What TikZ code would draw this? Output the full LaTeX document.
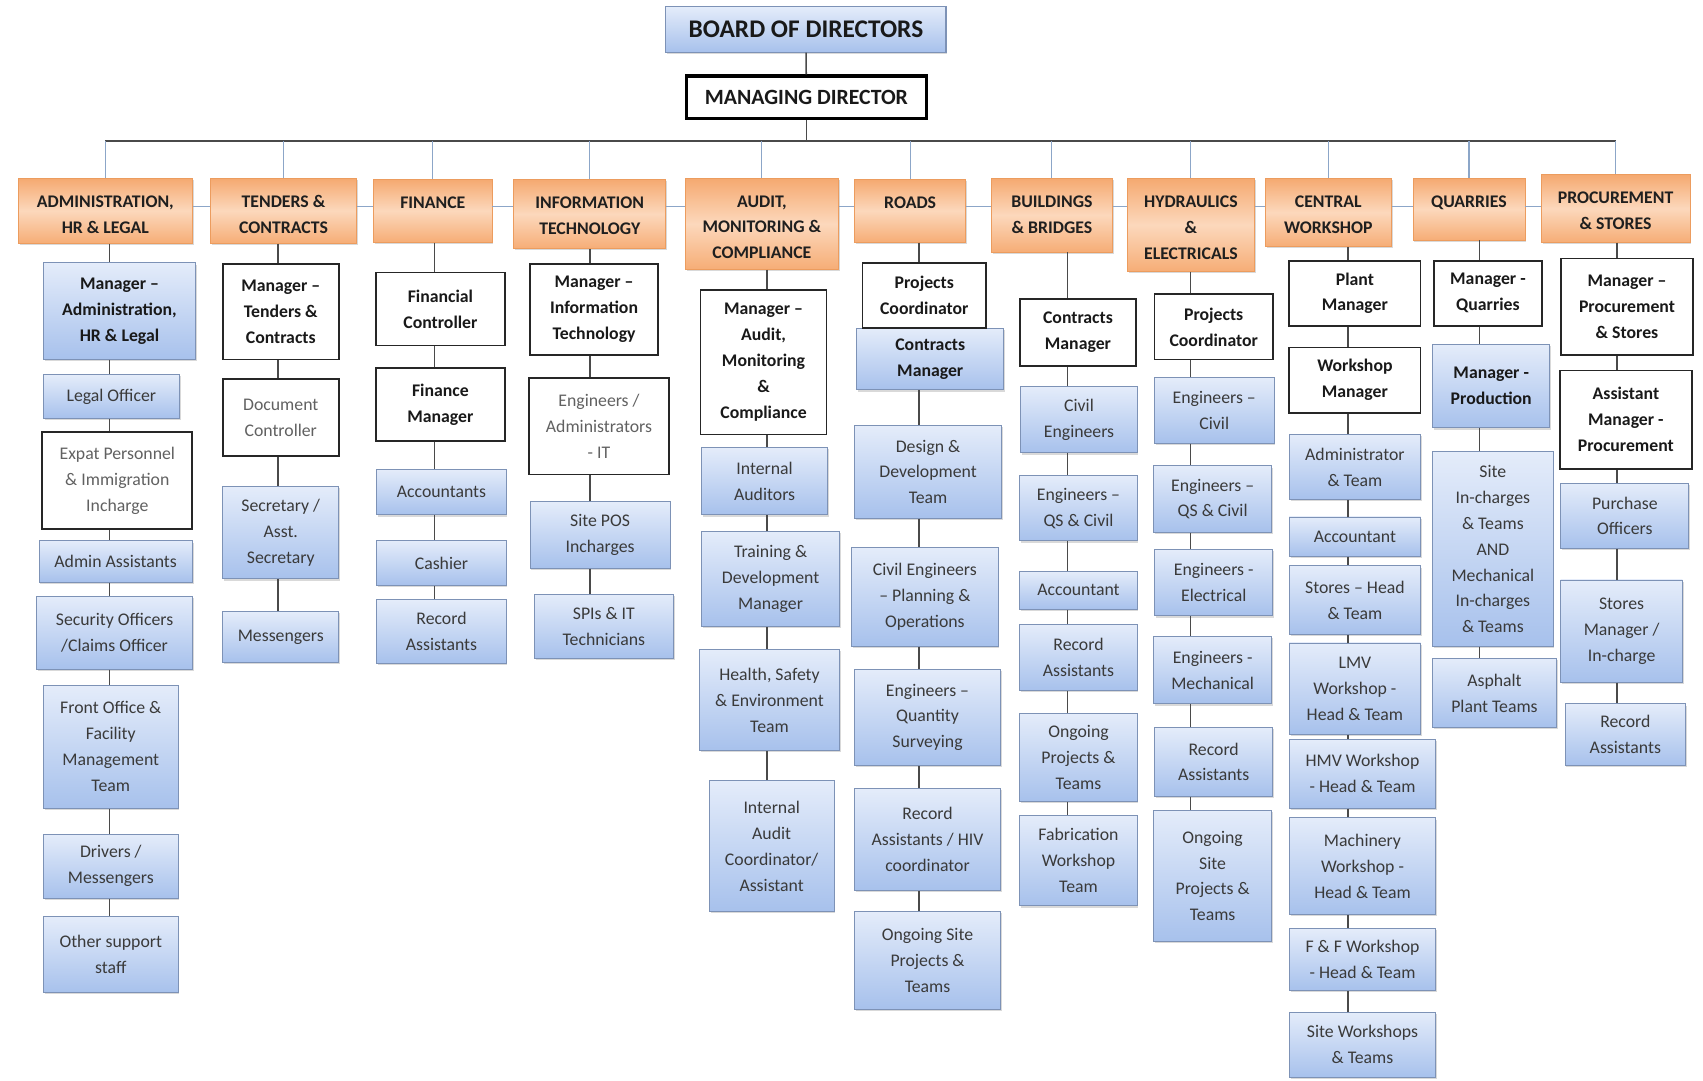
\documentclass[tikz,border=0pt]{standalone}
\usepackage{fontspec}
\setmainfont{Carlito}
\usetikzlibrary{shadows}

\definecolor{hdtop}{HTML}{F5A970}
\definecolor{hdmid}{HTML}{FCD8BC}
\definecolor{hdbot}{HTML}{F6AD76}
\definecolor{hdline}{HTML}{EC9C5E}
\definecolor{bltop}{HTML}{E4ECFA}
\definecolor{blbot}{HTML}{A7C1EC}
\definecolor{blline}{HTML}{7D92B6}
\definecolor{wire}{HTML}{4A4A4A}
\definecolor{thinwire}{HTML}{8CA6C8}
\definecolor{ink}{HTML}{3A3A3A}

% box from its corners (x1,y1)-(x2,y2)
\newcommand{\orgbox}[7]{%
  \node[#1, minimum width={(#5-#3)*0.2mm}, minimum height={(#6-#4)*0.2mm}]
    (#2) at ({(#3+#5)/2},{(#4+#6)/2}) {#7};}
% department head box, text at its top
\newcommand{\headbox}[6]{%
  \node[head, minimum width={(#4-#2)*0.2mm}, minimum height={(#5-#3)*0.2mm}]
    (#1) at ({(#2+#4)/2},{(#3+#5)/2}) {};
  \node[head text] (#1-t) at ([yshift=-3.2mm]#1.north) {#6};}

\begin{document}
\begin{tikzpicture}[x=0.2mm, y=-0.2mm,
    box/.style={rectangle, align=center, inner xsep=1pt, inner ysep=1pt,
      text=ink, font=\fontsize{9.3}{13.6}\selectfont},
    blue box/.style={box, draw=blline, line width=0.5pt, top color=bltop,
      bottom color=blbot,
      drop shadow={shadow xshift=0.7pt, shadow yshift=-0.9pt, opacity=0.3}},
    white box/.style={box, draw=black!85, line width=0.9pt, fill=white,
      text=black!62},
    boss/.style={white box, text=black!90,
      font=\fontsize{9.3}{13.6}\selectfont\bfseries},
    blue boss/.style={blue box, text=black!90,
      font=\fontsize{9.3}{13.6}\selectfont\bfseries},
    head/.style={rectangle, draw=hdline, line width=0.4pt, top color=hdtop,
      bottom color=hdbot, middle color=hdmid,
      drop shadow={shadow xshift=0.7pt, shadow yshift=-0.9pt, opacity=0.3}},
    head text/.style={anchor=north, inner sep=0pt, align=center,
      text=black!88, font=\fontsize{9.3}{13.6}\selectfont\bfseries},
    board box/.style={box, draw=blline, line width=0.6pt, top color=bltop,
      bottom color=blbot, text=black!90,
      font=\fontsize{13.3}{15}\selectfont\bfseries,
      drop shadow={shadow xshift=0.7pt, shadow yshift=-0.9pt, opacity=0.3}},
    md box/.style={box, draw=black, line width=1.7pt, fill=white,
      text=black!90, font=\fontsize{11.4}{13}\selectfont\bfseries},
    conn/.style={draw=wire, line width=0.8pt},
    bus line/.style={draw=wire, line width=1.1pt},
    thin link/.style={draw=thinwire, line width=0.6pt}]
  \useasboundingbox (0,0) rectangle (1568,995);

  \orgbox{board box}{board}{613}{6}{871}{48}{BOARD OF DIRECTORS}
  \orgbox{md box}{md}{632}{70}{853}{109}{MANAGING DIRECTOR}

  \headbox{adm}{17}{164}{177}{224}{ADMINISTRATION,\\HR \& LEGAL}
  \headbox{ten}{194}{164}{328}{224}{TENDERS \&\\CONTRACTS}
  \headbox{fin}{344}{165}{453}{223}{FINANCE}
  \headbox{it}{473}{165}{613}{229}{INFORMATION\\TECHNOLOGY}
  \headbox{aud}{631}{164}{772}{248}{AUDIT,\\MONITORING \&\\COMPLIANCE}
  \headbox{rds}{787}{165}{889}{223}{ROADS}
  \headbox{bld}{913}{164}{1024}{232}{BUILDINGS\\\& BRIDGES}
  \headbox{hyd}{1038}{164}{1155}{250}{HYDRAULICS\\\&\\ELECTRICALS}
  \headbox{cws}{1165}{164}{1281}{227}{CENTRAL\\WORKSHOP}
  \headbox{qry}{1301}{164}{1404}{221}{QUARRIES}
  \headbox{prc}{1419}{161}{1556}{223}{PROCUREMENT\\\& STORES}

  % administration
  \orgbox{blue boss}{adm1}{40}{242}{180}{331}{Manager –\\Administration,\\HR \& Legal}
  \orgbox{blue box}{adm2}{40}{345}{165}{385}{Legal Officer}
  \orgbox{white box}{adm3}{39}{398}{177}{487}{Expat Personnel\\\& Immigration\\Incharge}
  \orgbox{blue box}{adm4}{36}{498}{177}{536}{Admin Assistants}
  \orgbox{blue box}{adm5}{34}{549}{177}{616}{Security Officers\\/Claims Officer}
  \orgbox{blue box}{adm6}{40}{631}{164}{744}{Front Office \&\\Facility\\Management\\Team}
  \orgbox{blue box}{adm7}{40}{768}{164}{827}{Drivers /\\Messengers}
  \orgbox{blue box}{adm8}{40}{844}{164}{914}{Other support\\staff}

  % tenders
  \orgbox{boss}{ten1}{205}{243}{312}{331}{Manager –\\Tenders \&\\Contracts}
  \orgbox{white box}{ten2}{205}{349}{312}{420}{Document\\Controller}
  \orgbox{blue box}{ten3}{205}{448}{312}{533}{Secretary /\\Asst.\\Secretary}
  \orgbox{blue box}{ten4}{205}{563}{312}{610}{Messengers}

  % finance
  \orgbox{boss}{fin1}{346}{251}{465}{318}{Financial\\Controller}
  \orgbox{boss}{fin2}{346}{339}{465}{406}{Finance\\Manager}
  \orgbox{blue box}{fin3}{347}{432}{466}{474}{Accountants}
  \orgbox{blue box}{fin4}{347}{498}{466}{539}{Cashier}
  \orgbox{blue box}{fin5}{347}{552}{466}{611}{Record\\Assistants}

  % information technology
  \orgbox{boss}{it1}{488}{243}{606}{327}{Manager –\\Information\\Technology}
  \orgbox{white box}{it2}{487}{348}{616}{437}{Engineers /\\Administrators\\- IT}
  \orgbox{blue box}{it3}{488}{462}{617}{523}{Site POS\\Incharges}
  \orgbox{blue box}{it4}{492}{547}{620}{606}{SPIs \& IT\\Technicians}

  % audit
  \orgbox{boss}{aud1}{645}{267}{761}{400}{Manager –\\Audit,\\Monitoring\\\&\\Compliance}
  \orgbox{blue box}{aud2}{646}{412}{762}{474}{Internal\\Auditors}
  \orgbox{blue box}{aud3}{646}{489}{773}{577}{Training \&\\Development\\Manager}
  \orgbox{blue box}{aud4}{644}{598}{773}{691}{Health, Safety\\\& Environment\\Team}
  \orgbox{blue box}{aud5}{653}{719}{768}{839}{Internal\\Audit\\Coordinator/\\Assistant}

  % roads
  \orgbox{blue boss}{rds2}{789}{302}{924}{359}{Contracts\\Manager}
  \orgbox{boss}{rds1}{794}{242}{908}{302}{Projects\\Coordinator}
  \orgbox{blue box}{rds3}{787}{392}{922}{477}{Design \&\\Development\\Team}
  \orgbox{blue box}{rds4}{784}{504}{919}{595}{Civil Engineers\\– Planning \&\\Operations}
  \orgbox{blue box}{rds5}{787}{616}{921}{705}{Engineers –\\Quantity\\Surveying}
  \orgbox{blue box}{rds6}{787}{726}{921}{820}{Record\\Assistants / HIV\\coordinator}
  \orgbox{blue box}{rds7}{787}{839}{921}{929}{Ongoing Site\\Projects \&\\Teams}

  % buildings
  \orgbox{boss}{bld1}{939}{275}{1046}{337}{Contracts\\Manager}
  \orgbox{blue box}{bld2}{940}{356}{1047}{417}{Civil\\Engineers}
  \orgbox{blue box}{bld3}{939}{438}{1047}{498}{Engineers –\\QS \& Civil}
  \orgbox{blue box}{bld4}{939}{526}{1047}{561}{Accountant}
  \orgbox{blue box}{bld5}{939}{575}{1047}{636}{Record\\Assistants}
  \orgbox{blue box}{bld6}{939}{657}{1047}{738}{Ongoing\\Projects \&\\Teams}
  \orgbox{blue box}{bld7}{939}{751}{1047}{834}{Fabrication\\Workshop\\Team}

  % hydraulics
  \orgbox{boss}{hyd1}{1063}{271}{1172}{331}{Projects\\Coordinator}
  \orgbox{blue box}{hyd2}{1063}{348}{1173}{408}{Engineers –\\Civil}
  \orgbox{blue box}{hyd3}{1062}{429}{1171}{490}{Engineers –\\QS \& Civil}
  \orgbox{blue box}{hyd4}{1063}{506}{1172}{567}{Engineers -\\Electrical}
  \orgbox{blue box}{hyd5}{1062}{586}{1171}{648}{Engineers -\\Mechanical}
  \orgbox{blue box}{hyd6}{1063}{670}{1172}{733}{Record\\Assistants}
  \orgbox{blue box}{hyd7}{1062}{746}{1171}{867}{Ongoing\\Site\\Projects \&\\Teams}

  % central workshop
  \orgbox{boss}{cws1}{1187}{240}{1308}{300}{Plant\\Manager}
  \orgbox{boss}{cws2}{1187}{320}{1308}{380}{Workshop\\Manager}
  \orgbox{blue box}{cws3}{1187}{400}{1308}{460}{Administrator\\\& Team}
  \orgbox{blue box}{cws4}{1187}{476}{1308}{512}{Accountant}
  \orgbox{blue box}{cws5}{1187}{521}{1308}{584}{Stores – Head\\\& Team}
  \orgbox{blue box}{cws6}{1187}{592}{1308}{676}{LMV\\Workshop -\\Head \& Team}
  \orgbox{blue box}{cws7}{1187}{681}{1322}{744}{HMV Workshop\\- Head \& Team}
  \orgbox{blue box}{cws8}{1187}{753}{1322}{842}{Machinery\\Workshop -\\Head \& Team}
  \orgbox{blue box}{cws9}{1187}{855}{1322}{912}{F \& F Workshop\\- Head \& Team}
  \orgbox{blue box}{cws10}{1187}{932}{1322}{992}{Site Workshops\\\& Teams}

  % quarries
  \orgbox{boss}{qry1}{1320}{240}{1420}{300}{Manager -\\Quarries}
  \orgbox{blue boss}{qry2}{1319}{317}{1427}{394}{Manager -\\Production}
  \orgbox{blue box}{qry3}{1319}{416}{1430}{595}{Site\\In-charges\\\& Teams\\AND\\Mechanical\\In-charges\\\& Teams}
  \orgbox{blue box}{qry4}{1319}{606}{1433}{670}{Asphalt\\Plant Teams}

  % procurement
  \orgbox{boss}{prc1}{1437}{238}{1559}{327}{Manager –\\Procurement\\\& Stores}
  \orgbox{boss}{prc2}{1436}{341}{1558}{432}{Assistant\\Manager -\\Procurement}
  \orgbox{blue box}{prc3}{1437}{445}{1555}{505}{Purchase\\Officers}
  \orgbox{blue box}{prc4}{1437}{534}{1549}{628}{Stores\\Manager /\\In-charge}
  \orgbox{blue box}{prc5}{1441}{648}{1552}{705}{Record\\Assistants}

  % bus and links
  \coordinate (busy) at (0,130);
  \coordinate (lnk) at (0,190);
  \draw[conn] (board) -- (md);
  \draw[conn] (md.south) -- (md.south |- busy);
  \draw[bus line] (adm.north |- busy) -- (prc.north |- busy);
  \foreach \h in {adm,ten,fin,it,aud,rds,bld,hyd,cws,qry,prc}
    \draw[thin link] (\h.north |- busy) -- (\h.north);
  \foreach \a/\b in {adm/ten,ten/fin,fin/it,it/aud,aud/rds,rds/bld,bld/hyd,hyd/cws,cws/qry,qry/prc}
    \draw[thin link] (\a.east |- lnk) -- (\b.west |- lnk);

  % column lines
  \foreach \h/\x in {adm/101,ten/256,fin/400,it/543,aud/706,rds/846,bld/983,hyd/1096,cws/1241,qry/1362,prc/1489}
    \coordinate (x-\h) at (\x,0);
  \foreach \a/\b in {adm/adm1,adm1/adm2,adm2/adm3,adm3/adm4,adm4/adm5,adm5/adm6,adm6/adm7,adm7/adm8}
    \draw[conn] (\a.south -| x-adm) -- (\b.north -| x-adm);
  \foreach \a/\b in {ten/ten1,ten1/ten2,ten2/ten3,ten3/ten4}
    \draw[conn] (\a.south -| x-ten) -- (\b.north -| x-ten);
  \foreach \a/\b in {fin/fin1,fin1/fin2,fin2/fin3,fin3/fin4,fin4/fin5}
    \draw[conn] (\a.south -| x-fin) -- (\b.north -| x-fin);
  \foreach \a/\b in {it/it1,it1/it2,it2/it3,it3/it4}
    \draw[conn] (\a.south -| x-it) -- (\b.north -| x-it);
  \foreach \a/\b in {aud/aud1,aud1/aud2,aud2/aud3,aud3/aud4,aud4/aud5}
    \draw[conn] (\a.south -| x-aud) -- (\b.north -| x-aud);
  \foreach \a/\b in {rds/rds1,rds2/rds3,rds3/rds4,rds4/rds5,rds5/rds6,rds6/rds7}
    \draw[conn] (\a.south -| x-rds) -- (\b.north -| x-rds);
  \foreach \a/\b in {bld/bld1,bld1/bld2,bld2/bld3,bld3/bld4,bld4/bld5,bld5/bld6,bld6/bld7}
    \draw[conn] (\a.south -| x-bld) -- (\b.north -| x-bld);
  \foreach \a/\b in {hyd/hyd1,hyd1/hyd2,hyd2/hyd3,hyd3/hyd4,hyd4/hyd5,hyd5/hyd6,hyd6/hyd7}
    \draw[conn] (\a.south -| x-hyd) -- (\b.north -| x-hyd);
  \foreach \a/\b in {cws/cws1,cws1/cws2,cws2/cws3,cws3/cws4,cws4/cws5,cws5/cws6,cws6/cws7,cws7/cws8,cws8/cws9,cws9/cws10}
    \draw[conn] (\a.south -| x-cws) -- (\b.north -| x-cws);
  \foreach \a/\b in {qry/qry1,qry1/qry2,qry2/qry3,qry3/qry4}
    \draw[conn] (\a.south -| x-qry) -- (\b.north -| x-qry);
  \foreach \a/\b in {prc/prc1,prc1/prc2,prc2/prc3,prc3/prc4,prc4/prc5}
    \draw[conn] (\a.south -| x-prc) -- (\b.north -| x-prc);
\end{tikzpicture}
\end{document}
